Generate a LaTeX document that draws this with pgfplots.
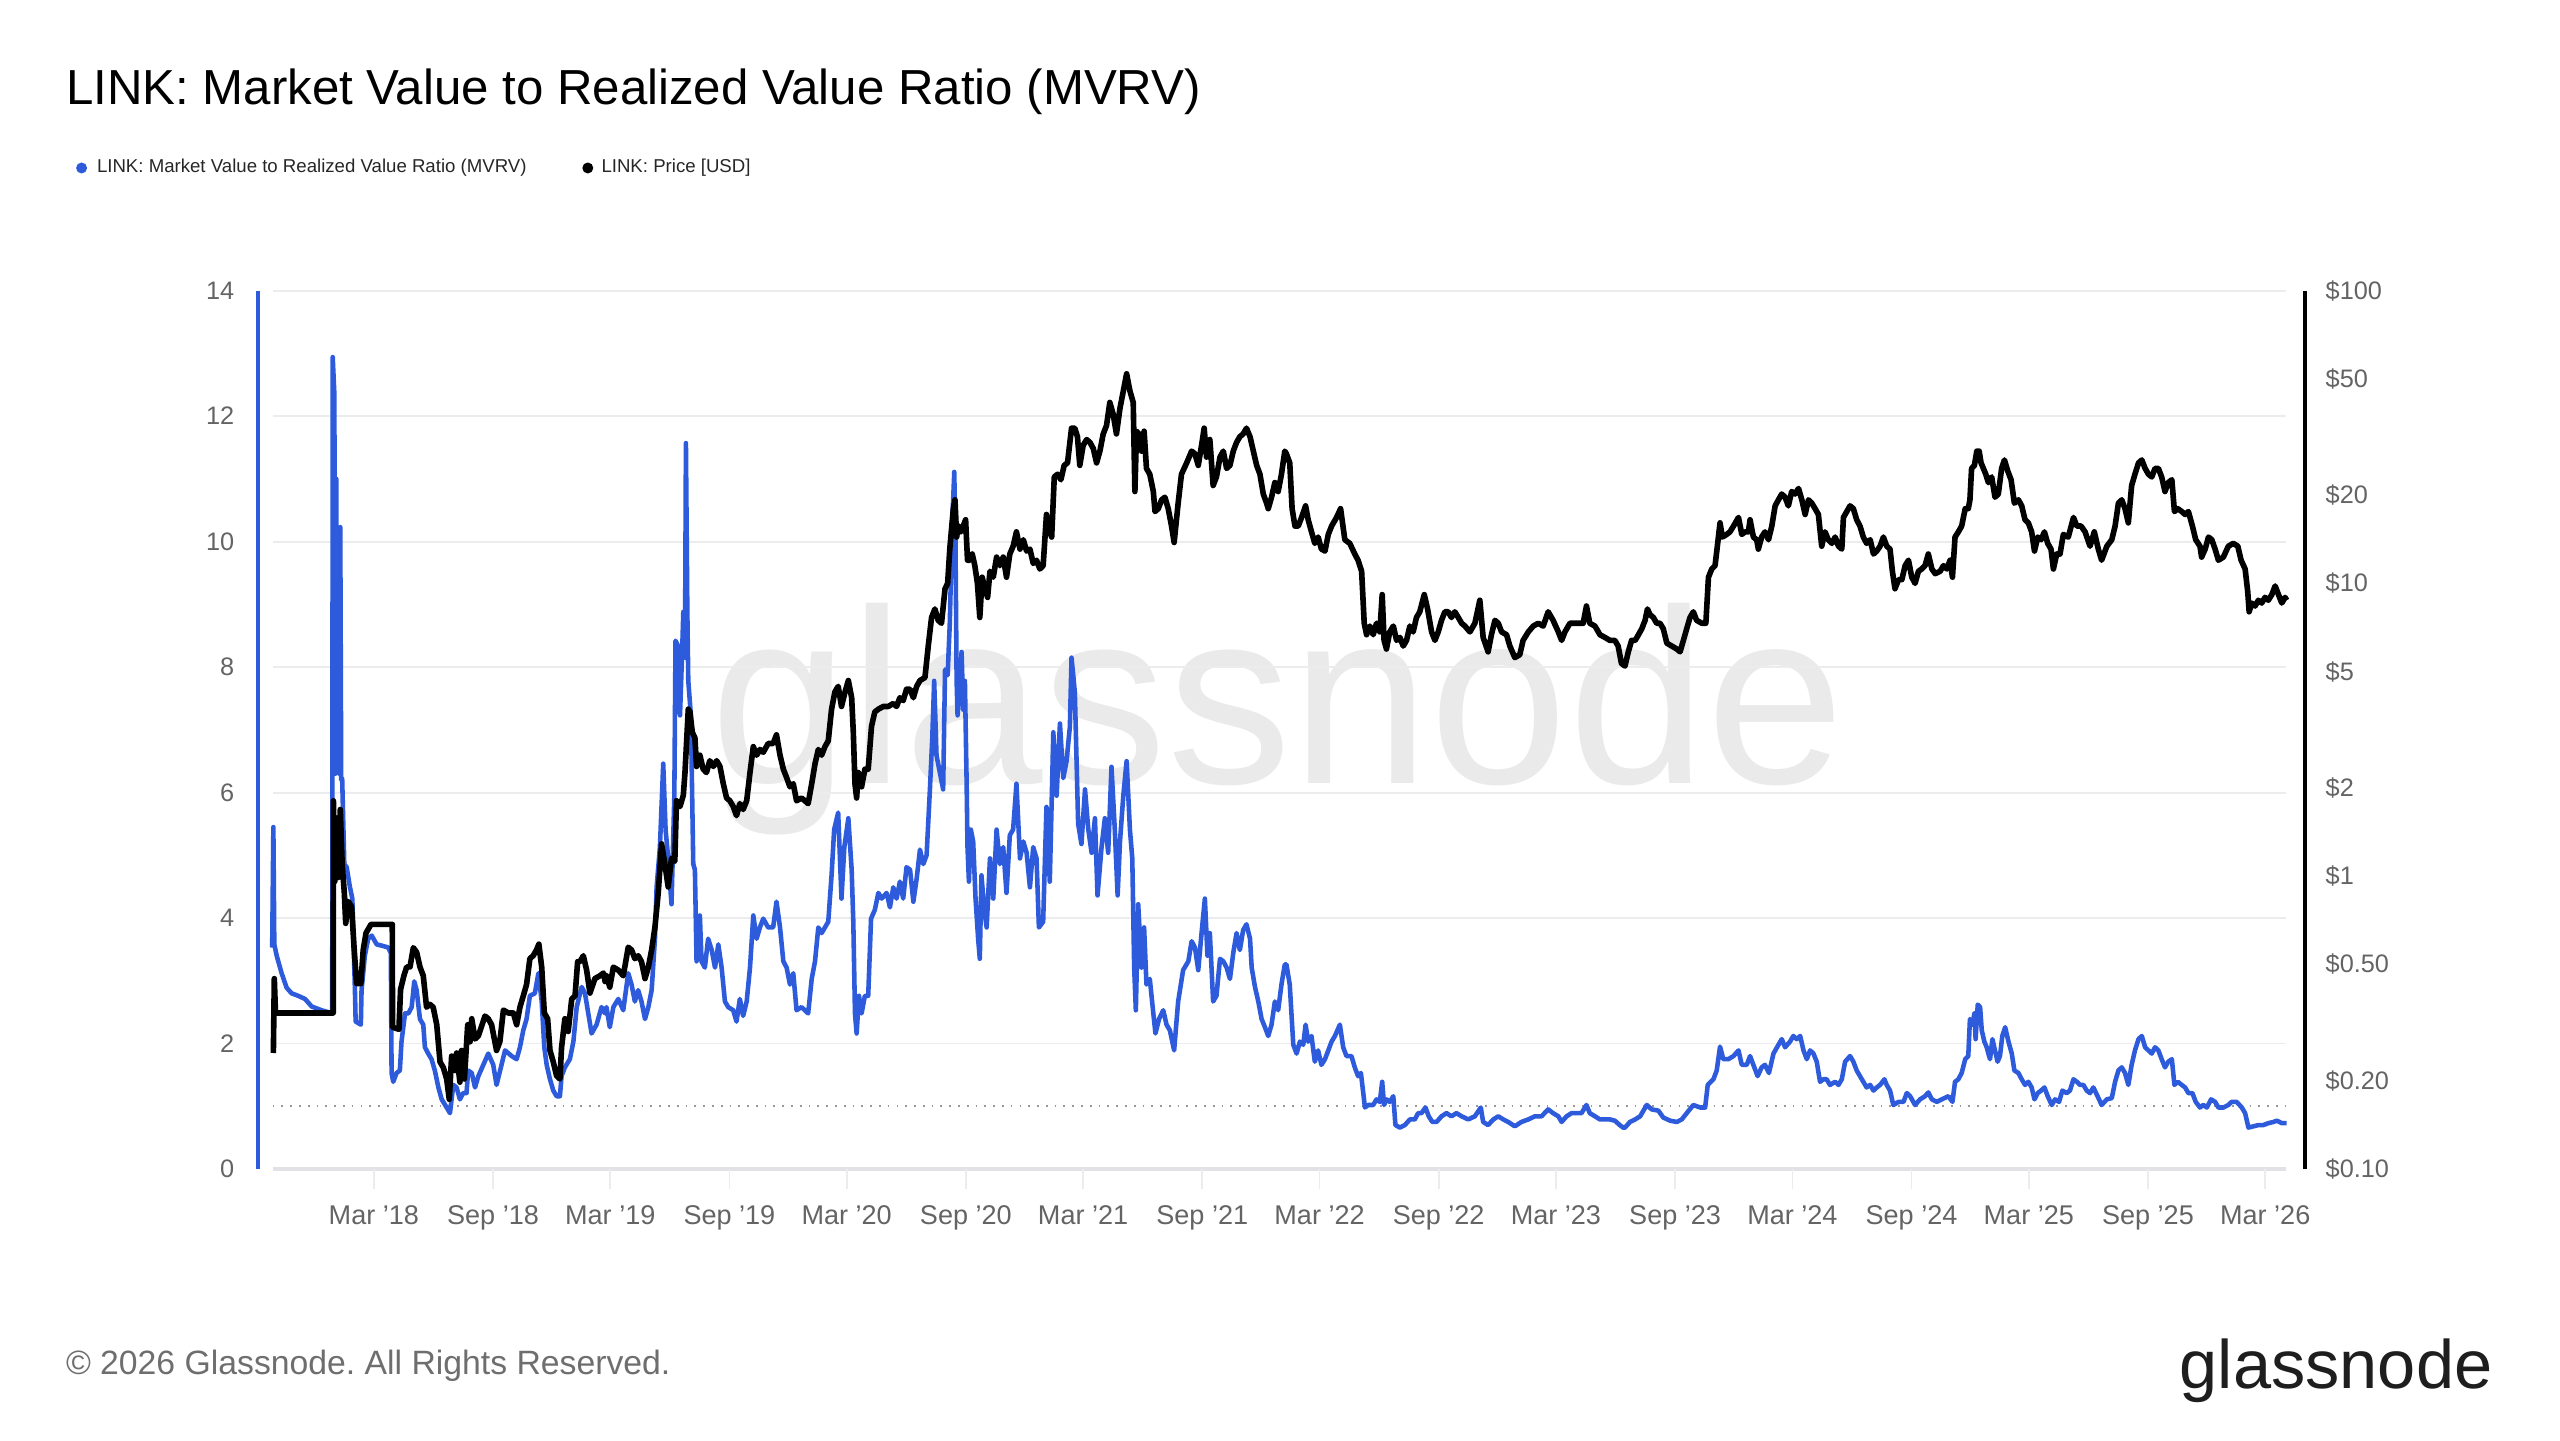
\documentclass[border=0pt]{standalone}
\usepackage{fontspec}
\setmainfont{Liberation Sans}
\usepackage{pgfplots}
\pgfplotsset{compat=1.18}
\frenchspacing
\definecolor{gnblue}{RGB}{45,91,219}
\definecolor{tickgray}{RGB}{100,100,100}
\definecolor{gridgray}{RGB}{236,236,238}
\definecolor{basegray}{RGB}{226,226,230}
\definecolor{wmgray}{RGB}{234,234,234}
\definecolor{footgray}{RGB}{110,110,110}
\definecolor{logogray}{RGB}{30,30,30}
\begin{document}
\begin{tikzpicture}[x=1cm,y=1cm]
\path[use as bounding box] (0,0) rectangle (25.6,14.4);
% title, legend, footer
\node[anchor=base west, inner sep=0, font=\fontsize{14}{16}\selectfont, text=black] at (0.653,13.355) {LINK: Market Value to Realized Value Ratio (MVRV)};
\fill[gnblue] (0.816,12.72) circle (0.055);
\node[anchor=west, inner sep=0, font=\fontsize{5.3}{6}\selectfont, text=black!85] at (0.963,12.72) {LINK: Market Value to Realized Value Ratio (MVRV)};
\fill[black] (5.878,12.72) circle (0.055);
\node[anchor=west, inner sep=0, font=\fontsize{5.3}{6}\selectfont, text=black!85] at (6.008,12.72) {LINK: Price [USD]};
\node[anchor=base west, inner sep=0, font=\fontsize{9.6}{11}\selectfont, text=footgray] at (0.653,0.653) {\textcopyright{} 2026 Glassnode. All Rights Reserved.};
\node[anchor=base east, inner sep=0, font=\fontsize{19.5}{22}\selectfont, text=logogray] at (24.93,0.52) {glassnode};
% watermark
\node[anchor=base, inner sep=0, font=\fontsize{70.8}{72}\selectfont, text=wmgray] at (12.78,6.563) {glassnode};
% ---------- MVRV axis ----------
\begin{axis}[
  at={(2.58cm,2.71cm)}, anchor=south west,
  width=20.474cm, height=8.784cm, scale only axis,
  xmin=2017.672, xmax=2026.332, ymin=0, ymax=14,
  clip=false,
  axis line style={draw=none},
  tick style={draw=none}, major tick length=0pt,
  ytick={0,2,4,6,8,10,12,14},
  yticklabel style={anchor=east, inner sep=0pt, xshift=-0.23cm, font=\fontsize{7.2}{8}\selectfont, text=tickgray},
  /pgf/number format/assume math mode=true,
  xtick={2018.162,2018.666,2019.162,2019.666,2020.162,2020.666,2021.162,2021.666,2022.162,2022.666,2023.162,2023.666,2024.162,2024.666,2025.162,2025.666,2026.162},
  xticklabels={Mar '18,Sep '18,Mar '19,Sep '19,Mar '20,Sep '20,Mar '21,Sep '21,Mar '22,Sep '22,Mar '23,Sep '23,Mar '24,Sep '24,Mar '25,Sep '25,Mar '26},
  xticklabel style={anchor=base, inner sep=0pt, yshift=-0.555cm, font=\fontsize{7.7}{9}\selectfont, text=tickgray},
]
\pgfplotsinvokeforeach{2,4,6,8,10,12,14}{
  \draw[gridgray, line width=0.55pt] (axis cs:2017.734,#1) -- (axis cs:2026.249,#1);
}
\draw[basegray, line width=1.4pt] (axis cs:2017.734,0) -- (axis cs:2026.249,0);
\pgfplotsinvokeforeach{2018.162,2018.666,2019.162,2019.666,2020.162,2020.666,2021.162,2021.666,2022.162,2022.666,2023.162,2023.666,2024.162,2024.666,2025.162,2025.666,2026.162}{
  \draw[gridgray, line width=0.5pt] (axis cs:#1,0) -- ++(0pt,-0.2cm);
}
\draw[gray!80, dotted, line width=0.5pt] (axis cs:2017.734,1) -- (axis cs:2026.249,1);
\draw[gnblue, line width=1.1pt] (rel axis cs:0,0) -- (rel axis cs:0,1);
\addplot[gnblue, line width=1.3pt, line join=round, mark=none] coordinates {
(2017.732,3.53)(2017.737,5.45)(2017.741,3.58)(2017.751,3.40)(2017.772,3.12)(2017.793,2.89)(2017.814,2.80)(2017.842,2.76)(2017.871,2.71)(2017.899,2.59)(2017.941,2.53)(2017.986,2.48)
(2017.988,12.94)(2017.995,12.35)(2017.999,6.3)(2018.003,11.0)(2018.008,6.5)(2018.012,9.0)(2018.016,6.3)(2018.020,10.23)(2018.024,6.2)(2018.028,6.23)(2018.037,4.86)(2018.047,4.81)(2018.061,4.49)(2018.071,4.31)(2018.082,2.85)(2018.085,2.35)(2018.107,2.30)(2018.110,2.85)(2018.124,3.40)(2018.138,3.67)(2018.153,3.72)(2018.174,3.58)(2018.195,3.56)(2018.223,3.53)(2018.234,3.44)
(2018.237,1.53)(2018.244,1.39)(2018.258,1.53)(2018.272,1.57)(2018.279,2.03)(2018.294,2.48)(2018.308,2.48)(2018.322,2.58)(2018.333,2.99)(2018.343,2.85)(2018.357,2.39)(2018.371,2.30)(2018.378,1.94)(2018.392,1.84)(2018.406,1.75)(2018.420,1.57)(2018.435,1.30)(2018.449,1.11)(2018.470,0.98)(2018.484,0.89)(2018.498,1.34)(2018.512,1.30)(2018.526,1.11)(2018.540,1.21)(2018.554,1.21)(2018.561,1.57)(2018.576,1.53)(2018.590,1.30)(2018.604,1.48)(2018.625,1.66)(2018.646,1.84)(2018.667,1.66)(2018.681,1.34)(2018.702,1.66)(2018.717,1.89)(2018.745,1.80)(2018.766,1.75)(2018.780,1.94)(2018.794,2.21)(2018.808,2.39)(2018.822,2.76)(2018.843,2.80)(2018.858,3.12)(2018.872,2.67)(2018.883,1.94)(2018.893,1.66)(2018.907,1.43)(2018.921,1.25)(2018.935,1.16)(2018.949,1.16)(2018.956,1.48)(2018.970,1.62)(2018.991,1.75)(2019.006,2.03)(2019.020,2.58)(2019.041,2.90)(2019.055,2.80)(2019.069,2.48)(2019.083,2.16)(2019.104,2.30)(2019.125,2.58)(2019.140,2.48)
(2019.146,2.58)(2019.160,2.26)(2019.175,2.58)(2019.196,2.71)(2019.217,2.53)(2019.238,3.12)(2019.252,2.94)(2019.266,2.67)(2019.280,2.85)(2019.294,2.67)(2019.309,2.39)(2019.323,2.58)(2019.337,2.85)(2019.351,3.67)(2019.358,4.49)(2019.372,5.13)(2019.386,6.46)(2019.396,5.41)(2019.407,4.95)(2019.421,4.22)(2019.433,5.95)(2019.438,8.42)(2019.450,8.33)(2019.457,7.23)(2019.466,8.24)(2019.471,8.88)(2019.478,8.15)(2019.482,11.57)(2019.488,8.88)(2019.492,7.78)(2019.503,7.23)(2019.513,4.86)(2019.520,4.77)(2019.527,3.31)(2019.541,4.04)(2019.548,3.31)(2019.562,3.21)(2019.576,3.67)(2019.591,3.49)(2019.605,3.21)(2019.619,3.58)(2019.633,3.21)(2019.647,2.67)(2019.661,2.58)(2019.682,2.53)(2019.696,2.35)(2019.710,2.71)(2019.724,2.44)(2019.739,2.67)(2019.753,3.21)(2019.767,4.04)(2019.781,3.67)(2019.795,3.85)(2019.809,3.99)(2019.830,3.85)(2019.851,3.85)(2019.865,4.26)(2019.880,3.85)(2019.894,3.31)(2019.908,3.21)(2019.922,2.94)(2019.936,3.12)(2019.950,2.53)(2019.971,2.58)(2019.999,2.48)
(2020.014,3.03)(2020.028,3.31)(2020.042,3.85)(2020.056,3.76)(2020.070,3.85)(2020.084,3.94)(2020.098,4.68)(2020.109,5.41)(2020.126,5.68)(2020.140,4.31)(2020.152,5.13)(2020.169,5.59)(2020.183,4.77)(2020.190,3.94)(2020.197,2.48)(2020.204,2.16)(2020.214,2.76)(2020.225,2.48)(2020.239,2.76)(2020.253,2.76)(2020.265,3.99)(2020.281,4.13)(2020.296,4.40)(2020.310,4.31)(2020.331,4.40)(2020.345,4.17)(2020.359,4.49)(2020.373,4.31)(2020.387,4.58)(2020.401,4.31)(2020.415,4.81)(2020.430,4.77)(2020.444,4.26)(2020.458,4.63)(2020.472,5.09)(2020.486,4.86)(2020.500,5.00)(2020.514,6.05)(2020.524,6.87)(2020.532,7.78)(2020.542,6.59)(2020.556,6.32)(2020.570,6.05)(2020.578,7.96)
(2020.589,7.87)(2020.598,8.69)(2020.608,10.25)(2020.617,11.11)(2020.622,10.06)(2020.627,7.78)(2020.631,7.23)(2020.641,7.78)(2020.648,8.24)(2020.655,7.32)(2020.662,7.78)(2020.669,6.23)(2020.673,5.13)(2020.679,4.58)(2020.687,5.41)(2020.697,5.22)(2020.707,4.31)(2020.718,3.67)(2020.725,3.35)(2020.732,4.68)(2020.744,4.13)(2020.754,3.85)(2020.768,4.95)(2020.782,4.31)(2020.796,5.41)(2020.810,4.86)(2020.824,5.13)(2020.838,4.40)(2020.852,5.32)(2020.866,5.41)(2020.880,6.14)(2020.895,4.95)(2020.909,5.22)(2020.923,5.04)(2020.937,4.49)(2020.951,5.13)(2020.965,4.95)(2020.975,3.85)(2020.993,3.94)
(2021.007,5.77)(2021.021,4.58)(2021.036,6.96)(2021.050,5.95)(2021.064,7.10)(2021.078,6.23)(2021.092,6.50)(2021.106,7.05)(2021.113,8.15)(2021.127,7.60)(2021.141,5.50)(2021.155,5.18)(2021.170,6.05)(2021.184,5.41)(2021.198,5.04)(2021.212,5.59)(2021.223,4.36)(2021.240,5.13)(2021.254,5.59)(2021.268,5.04)(2021.282,6.41)(2021.296,5.41)(2021.308,4.36)(2021.318,5.22)(2021.332,5.95)(2021.346,6.50)(2021.360,5.41)(2021.370,4.95)(2021.378,3.21)(2021.385,2.53)(2021.395,4.22)(2021.409,3.21)(2021.420,3.85)(2021.430,2.94)(2021.444,3.03)(2021.459,2.48)(2021.468,2.16)(2021.483,2.39)(2021.501,2.53)(2021.515,2.30)(2021.529,2.21)(2021.547,1.89)(2021.564,2.67)(2021.585,3.17)(2021.607,3.31)(2021.621,3.63)(2021.635,3.53)(2021.649,3.17)(2021.663,3.76)(2021.677,4.31)(2021.688,3.40)(2021.698,3.76)(2021.712,2.67)(2021.726,2.76)(2021.741,3.35)(2021.755,3.31)(2021.769,3.21)(2021.783,3.03)(2021.797,3.44)(2021.811,3.76)(2021.825,3.49)(2021.839,3.81)(2021.853,3.90)(2021.868,3.67)(2021.875,3.21)(2021.889,2.90)(2021.903,2.67)(2021.917,2.39)(2021.931,2.26)(2021.945,2.12)(2021.959,2.30)(2021.973,2.67)(2021.987,2.53)(2022.001,2.94)(2022.015,3.26)
(2022.022,3.26)(2022.036,2.94)(2022.051,1.98)(2022.065,1.84)(2022.079,2.03)(2022.093,1.98)(2022.103,2.30)(2022.114,2.03)(2022.128,2.12)(2022.142,1.71)(2022.156,1.89)(2022.170,1.66)(2022.185,1.75)(2022.199,1.89)(2022.213,2.03)(2022.227,2.12)(2022.248,2.30)(2022.262,1.94)(2022.276,1.80)(2022.297,1.80)(2022.311,1.62)(2022.325,1.48)(2022.337,1.53)(2022.347,1.21)(2022.354,0.98)(2022.368,1.02)(2022.389,1.02)(2022.403,1.11)(2022.417,1.07)(2022.427,1.39)(2022.435,1.02)(2022.445,1.11)(2022.459,1.07)(2022.474,1.16)(2022.483,0.70)(2022.502,0.66)(2022.523,0.70)(2022.544,0.79)(2022.565,0.79)(2022.579,0.89)(2022.593,0.89)(2022.610,0.98)(2022.624,0.84)(2022.639,0.75)(2022.657,0.75)(2022.678,0.84)(2022.699,0.89)(2022.720,0.84)(2022.741,0.89)(2022.763,0.84)(2022.791,0.79)(2022.819,0.84)(2022.844,0.98)(2022.854,0.75)(2022.875,0.70)(2022.897,0.79)(2022.918,0.84)(2022.939,0.79)(2022.960,0.75)(2022.988,0.68)
(2023.016,0.75)(2023.045,0.79)(2023.073,0.84)(2023.101,0.84)(2023.129,0.95)(2023.150,0.89)(2023.172,0.84)(2023.186,0.75)(2023.207,0.84)(2023.228,0.89)(2023.249,0.89)(2023.270,0.89)(2023.291,1.02)(2023.305,0.89)(2023.327,0.84)(2023.348,0.79)(2023.369,0.79)(2023.390,0.79)(2023.411,0.77)(2023.432,0.70)(2023.446,0.66)(2023.454,0.66)
(2023.475,0.75)(2023.497,0.79)(2023.518,0.84)(2023.546,1.02)(2023.567,0.95)(2023.595,0.93)(2023.616,0.82)(2023.645,0.77)(2023.673,0.75)(2023.694,0.79)(2023.715,0.89)(2023.743,1.02)(2023.772,0.98)(2023.793,0.98)(2023.804,1.34)(2023.828,1.43)(2023.842,1.57)(2023.856,1.95)(2023.870,1.75)(2023.891,1.75)(2023.913,1.80)(2023.934,1.89)(2023.948,1.66)(2023.969,1.66)(2023.983,1.80)(2023.997,1.66)
(2024.015,1.48)(2024.032,1.62)(2024.046,1.66)(2024.063,1.53)(2024.082,1.84)(2024.103,1.98)(2024.117,2.07)(2024.131,1.94)(2024.152,2.03)(2024.166,2.12)(2024.180,2.07)(2024.195,2.12)(2024.209,1.89)(2024.223,1.75)(2024.237,1.89)(2024.251,1.84)(2024.265,1.71)(2024.279,1.39)(2024.293,1.43)(2024.307,1.43)(2024.321,1.34)(2024.343,1.39)(2024.357,1.34)(2024.371,1.43)(2024.385,1.71)(2024.406,1.80)(2024.420,1.71)(2024.434,1.57)(2024.448,1.48)(2024.462,1.39)(2024.476,1.30)(2024.491,1.34)(2024.505,1.25)(2024.519,1.30)(2024.533,1.34)(2024.551,1.43)(2024.561,1.34)(2024.575,1.25)(2024.589,1.02)(2024.611,1.07)(2024.632,1.07)(2024.646,1.21)(2024.660,1.16)(2024.681,1.02)(2024.702,1.11)(2024.723,1.16)(2024.737,1.22)(2024.752,1.11)(2024.773,1.07)(2024.794,1.11)(2024.822,1.16)(2024.839,1.07)(2024.850,1.39)(2024.864,1.43)(2024.878,1.53)(2024.893,1.75)
(2024.906,1.80)(2024.913,2.39)(2024.923,2.30)(2024.932,2.48)(2024.937,2.07)(2024.946,2.62)(2024.956,2.58)(2024.963,2.21)(2024.974,2.03)(2024.984,1.94)(2024.991,1.84)(2024.998,1.75)(2025.008,2.07)(2025.019,1.89)(2025.030,1.71)(2025.040,1.80)(2025.050,2.12)(2025.062,2.26)(2025.076,2.03)(2025.090,1.84)(2025.101,1.57)(2025.118,1.53)(2025.132,1.43)(2025.146,1.34)(2025.160,1.39)(2025.174,1.30)(2025.186,1.11)(2025.200,1.21)(2025.214,1.25)(2025.228,1.30)(2025.242,1.16)(2025.259,1.02)(2025.273,1.11)(2025.290,1.07)(2025.304,1.25)(2025.322,1.21)(2025.336,1.25)(2025.351,1.43)(2025.365,1.39)(2025.379,1.34)(2025.393,1.34)(2025.407,1.25)(2025.421,1.21)(2025.435,1.30)(2025.453,1.16)(2025.470,1.02)(2025.492,1.11)(2025.513,1.13)(2025.527,1.39)(2025.541,1.57)(2025.555,1.62)(2025.569,1.53)(2025.583,1.34)(2025.597,1.66)(2025.611,1.89)(2025.626,2.07)(2025.640,2.12)(2025.654,1.94)(2025.668,1.89)(2025.682,1.84)(2025.696,1.94)(2025.710,1.89)(2025.724,1.75)(2025.738,1.62)(2025.752,1.71)(2025.767,1.75)(2025.778,1.34)(2025.792,1.39)(2025.809,1.34)(2025.823,1.30)(2025.837,1.21)(2025.854,1.21)(2025.868,1.07)(2025.886,0.98)(2025.900,1.02)(2025.915,0.98)(2025.933,1.11)(2025.950,1.07)(2025.964,0.98)(2025.985,0.98)
(2026.006,1.02)(2026.020,1.07)(2026.041,1.07)(2026.063,0.98)(2026.077,0.89)(2026.091,0.66)(2026.112,0.68)(2026.133,0.70)(2026.154,0.70)(2026.175,0.73)(2026.197,0.75)(2026.211,0.77)(2026.232,0.73)(2026.253,0.73)
};
\end{axis}
% ---------- Price axis ----------
\begin{axis}[
  at={(2.58cm,2.71cm)}, anchor=south west,
  width=20.474cm, height=8.784cm, scale only axis,
  xmin=2017.672, xmax=2026.332, ymin=0.1, ymax=100,
  ymode=log, clip=false,
  hide x axis,
  axis y line*=right,
  y axis line style={draw=none},
  tick style={draw=none}, major tick length=0pt, minor tick num=0,
  ytick={0.1,0.2,0.5,1,2,5,10,20,50,100},
  yticklabels={\$0.10,\$0.20,\$0.50,\$1,\$2,\$5,\$10,\$20,\$50,\$100},
  yticklabel style={anchor=west, inner sep=0pt, xshift=0.196cm, font=\fontsize{7.2}{8}\selectfont, text=tickgray},
  yminorticks=false,
]
\draw[black, line width=1.1pt] (rel axis cs:1,0) -- (rel axis cs:1,1);
\addplot[black, line width=1.6pt, line join=round, mark=none] coordinates {
(2017.737,0.249)(2017.741,0.447)(2017.746,0.341)(2017.990,0.341)(2017.991,1.81)(2017.997,0.96)(2018.004,1.58)(2018.012,0.99)(2018.020,1.69)(2018.028,1.10)(2018.037,0.88)(2018.043,0.69)(2018.054,0.82)(2018.068,0.785)(2018.079,0.56)(2018.089,0.43)(2018.107,0.43)(2018.117,0.56)(2018.129,0.64)(2018.150,0.685)(2018.240,0.685)(2018.241,0.305)(2018.268,0.30)(2018.275,0.41)(2018.289,0.457)(2018.301,0.49)(2018.315,0.49)(2018.329,0.57)(2018.343,0.55)(2018.357,0.49)(2018.371,0.457)(2018.385,0.357)(2018.399,0.365)(2018.413,0.357)(2018.428,0.311)(2018.442,0.232)(2018.456,0.222)(2018.470,0.203)(2018.481,0.173)(2018.491,0.243)(2018.505,0.217)(2018.512,0.249)(2018.526,0.198)(2018.533,0.254)(2018.545,0.203)(2018.559,0.311)(2018.569,0.272)(2018.576,0.326)(2018.590,0.278)(2018.604,0.285)(2018.632,0.333)(2018.646,0.326)(2018.660,0.311)(2018.681,0.254)(2018.695,0.272)(2018.710,0.349)(2018.731,0.341)(2018.752,0.341)(2018.766,0.311)(2018.780,0.357)(2018.794,0.390)(2018.808,0.427)(2018.822,0.523)(2018.836,0.535)(2018.850,0.560)(2018.860,0.586)(2018.872,0.489)(2018.883,0.341)(2018.897,0.326)(2018.907,0.254)(2018.921,0.232)(2018.935,0.208)(2018.949,0.203)(2018.956,0.260)(2018.970,0.326)(2018.984,0.295)(2018.999,0.381)(2019.013,0.390)(2019.024,0.511)(2019.034,0.511)(2019.048,0.535)(2019.062,0.478)(2019.076,0.399)(2019.097,0.447)(2019.118,0.457)(2019.133,0.467)(2019.140,0.437)
(2019.146,0.457)(2019.160,0.418)(2019.175,0.489)(2019.196,0.478)(2019.217,0.457)(2019.238,0.572)(2019.252,0.560)(2019.266,0.523)(2019.280,0.535)(2019.294,0.511)(2019.309,0.447)(2019.323,0.489)(2019.337,0.560)(2019.351,0.670)(2019.365,0.879)(2019.379,1.29)(2019.393,1.10)(2019.407,0.919)(2019.421,1.15)(2019.435,1.125)(2019.442,1.81)(2019.457,1.73)(2019.471,1.89)(2019.478,2.26)(2019.492,3.72)(2019.499,3.64)(2019.509,3.10)(2019.520,2.97)(2019.527,2.37)(2019.541,2.59)(2019.555,2.32)(2019.569,2.26)(2019.583,2.48)(2019.598,2.37)(2019.612,2.48)(2019.626,2.37)(2019.640,2.07)(2019.654,1.85)(2019.668,1.81)(2019.682,1.73)(2019.696,1.61)(2019.710,1.77)(2019.724,1.69)(2019.739,1.81)(2019.753,2.26)(2019.767,2.77)(2019.781,2.59)(2019.795,2.71)(2019.809,2.65)(2019.830,2.84)(2019.851,2.84)(2019.865,3.04)(2019.880,2.59)(2019.894,2.32)(2019.908,2.17)(2019.922,2.02)(2019.936,2.07)(2019.950,1.81)(2019.971,1.85)(2019.999,1.77)
(2020.014,2.07)(2020.028,2.42)(2020.042,2.71)(2020.056,2.59)(2020.070,2.77)(2020.084,2.90)(2020.098,3.72)(2020.112,4.26)(2020.126,4.45)(2020.140,3.80)(2020.155,4.26)(2020.169,4.66)(2020.183,4.07)(2020.190,3.10)(2020.197,2.07)(2020.204,1.85)(2020.211,2.26)(2020.225,2.02)(2020.239,2.32)(2020.253,2.32)(2020.267,3.25)(2020.281,3.64)(2020.296,3.72)(2020.317,3.80)(2020.338,3.80)(2020.359,3.89)(2020.373,3.80)(2020.387,4.07)(2020.401,3.98)(2020.415,4.35)(2020.430,4.35)(2020.444,4.07)(2020.458,4.45)(2020.472,4.66)(2020.493,4.77)(2020.507,6.11)(2020.521,7.65)(2020.535,8.18)(2020.549,7.48)(2020.563,7.31)(2020.578,9.59)
(2020.589,10.0)(2020.598,13.1)(2020.613,18.0)(2020.620,19.3)(2020.627,14.4)(2020.634,15.7)(2020.645,15.0)(2020.655,15.7)(2020.665,16.5)(2020.673,12.0)(2020.683,12.0)(2020.693,12.6)(2020.704,11.5)(2020.715,10.0)(2020.725,7.65)(2020.735,10.5)(2020.747,9.59)(2020.758,8.96)(2020.768,11.0)(2020.782,10.5)(2020.796,12.3)(2020.810,11.5)(2020.824,12.3)(2020.838,10.5)(2020.852,12.6)(2020.866,13.4)(2020.880,15.0)(2020.895,13.1)(2020.909,14.1)(2020.923,12.9)(2020.937,13.1)(2020.951,11.7)(2020.965,12.0)(2020.979,11.2)(2020.993,11.5)
(2021.007,17.2)(2021.021,15.0)(2021.029,14.4)(2021.040,23.1)(2021.054,23.6)(2021.068,22.6)(2021.082,25.3)(2021.096,25.8)(2021.113,33.9)(2021.127,33.9)(2021.138,31.7)(2021.148,25.3)(2021.162,29.6)(2021.177,31.0)(2021.191,30.3)(2021.205,28.9)(2021.219,25.8)(2021.233,28.3)(2021.247,32.4)(2021.261,34.6)(2021.275,41.5)(2021.289,37.9)(2021.303,32.4)(2021.318,39.7)(2021.332,45.4)(2021.346,52.0)(2021.360,45.4)(2021.374,41.5)(2021.381,20.6)(2021.388,33.1)(2021.398,32.4)(2021.409,28.3)(2021.420,33.1)(2021.430,24.7)(2021.444,23.6)(2021.459,20.6)(2021.466,17.6)(2021.480,18.0)(2021.494,19.3)(2021.508,19.7)(2021.522,18.0)(2021.536,15.7)(2021.547,13.8)(2021.564,18.8)(2021.578,23.6)(2021.600,25.8)(2021.621,28.3)(2021.635,27.7)(2021.649,25.3)(2021.663,29.6)(2021.674,33.9)(2021.684,27.0)(2021.698,31.0)(2021.712,21.6)(2021.726,23.1)(2021.741,27.0)(2021.755,28.3)(2021.769,24.7)(2021.783,25.3)(2021.797,28.3)(2021.811,30.3)(2021.825,31.7)(2021.839,32.4)(2021.853,33.9)(2021.868,31.7)(2021.882,28.3)(2021.896,25.3)(2021.910,23.6)(2021.924,20.2)(2021.938,18.8)(2021.945,18.0)(2021.959,19.7)(2021.973,22.1)(2021.987,20.6)(2022.001,23.6)(2022.015,28.3)
(2022.022,27.7)(2022.036,25.8)(2022.046,18.0)(2022.058,15.7)(2022.072,15.7)(2022.086,16.8)(2022.103,18.4)(2022.114,16.5)(2022.128,15.0)(2022.142,13.7)(2022.156,14.4)(2022.170,13.1)(2022.185,12.9)(2022.199,14.7)(2022.213,15.7)(2022.234,16.8)(2022.251,18.0)(2022.269,14.1)(2022.290,13.7)(2022.311,12.6)(2022.325,12.0)(2022.340,11.0)(2022.351,7.31)(2022.361,6.68)(2022.375,7.15)(2022.389,6.68)(2022.403,7.31)(2022.417,6.83)(2022.427,9.16)(2022.435,6.39)(2022.445,5.97)(2022.459,6.83)(2022.474,7.15)(2022.488,6.39)(2022.502,6.54)(2022.516,6.11)(2022.530,6.39)(2022.544,7.15)(2022.558,6.83)(2022.572,7.65)(2022.586,8.00)(2022.605,9.16)(2022.619,8.18)(2022.636,6.83)(2022.650,6.39)(2022.664,6.83)(2022.678,7.48)(2022.692,8.00)(2022.706,8.00)(2022.720,7.65)(2022.734,8.00)(2022.749,7.65)(2022.763,7.31)(2022.777,7.15)(2022.798,6.83)(2022.819,7.31)(2022.840,8.76)(2022.854,6.54)(2022.875,5.84)(2022.889,6.68)(2022.904,7.48)(2022.918,7.31)(2022.932,6.83)(2022.953,6.68)(2022.967,6.11)(2022.988,5.58)
(2023.009,5.71)(2023.023,6.39)(2023.045,6.83)(2023.066,7.15)(2023.087,7.31)(2023.108,7.15)(2023.129,8.00)(2023.150,7.48)(2023.172,6.83)(2023.186,6.39)(2023.200,6.83)(2023.221,7.31)(2023.242,7.31)(2023.263,7.31)(2023.277,7.31)(2023.291,8.37)(2023.305,7.31)(2023.327,7.15)(2023.348,6.68)(2023.369,6.54)(2023.390,6.39)(2023.411,6.39)(2023.425,6.11)(2023.439,5.33)(2023.454,5.22)
(2023.468,5.84)(2023.482,6.39)(2023.497,6.39)(2023.511,6.68)(2023.525,7.0)(2023.539,7.48)(2023.549,8.18)(2023.560,7.82)(2023.574,7.65)(2023.588,7.31)(2023.602,7.31)(2023.616,7.0)(2023.631,6.25)(2023.652,6.11)(2023.673,5.97)(2023.687,5.84)(2023.701,6.39)(2023.715,7.0)(2023.729,7.65)(2023.743,8.0)(2023.757,7.48)(2023.779,7.31)(2023.796,7.31)(2023.807,10.5)(2023.821,11.2)(2023.835,11.5)(2023.846,13.7)(2023.856,16.1)(2023.866,14.4)(2023.884,14.7)(2023.898,15.0)(2023.913,15.7)(2023.934,16.8)(2023.948,14.7)(2023.962,15.0)(2023.976,15.0)(2023.983,16.5)(2023.997,14.4)
(2024.011,14.1)(2024.018,13.1)(2024.032,14.4)(2024.046,15.0)(2024.061,14.1)(2024.075,15.7)(2024.089,18.4)(2024.103,19.3)(2024.117,20.2)(2024.131,19.7)(2024.145,18.4)(2024.159,20.6)(2024.173,20.2)(2024.188,21.1)(2024.202,19.3)(2024.216,17.2)(2024.230,19.3)(2024.244,18.8)(2024.258,18.0)(2024.272,17.2)(2024.286,13.4)(2024.300,15.0)(2024.314,14.1)(2024.329,13.7)(2024.343,14.4)(2024.357,13.4)(2024.371,13.1)(2024.378,16.8)(2024.392,17.6)(2024.406,18.4)(2024.420,18.0)(2024.434,16.5)(2024.448,15.7)(2024.462,14.4)(2024.476,13.7)(2024.491,14.1)(2024.505,12.6)(2024.519,12.9)(2024.533,13.4)(2024.547,14.4)(2024.561,13.4)(2024.575,13.1)(2024.585,11.0)(2024.596,9.59)(2024.611,10.3)(2024.625,10.3)(2024.639,11.5)(2024.653,12.0)(2024.667,10.5)(2024.681,10.0)(2024.695,11.0)(2024.709,11.2)(2024.723,11.5)(2024.737,12.6)(2024.752,11.2)(2024.766,10.8)(2024.787,11.0)(2024.801,11.5)(2024.815,11.2)(2024.829,12.0)(2024.839,10.5)(2024.850,14.4)(2024.864,15.0)(2024.878,15.7)(2024.893,18.0)
(2024.906,18.0)(2024.913,19.3)(2024.920,24.7)(2024.932,25.3)(2024.942,28.3)(2024.952,28.3)(2024.960,25.8)(2024.970,24.7)(2024.980,23.6)(2024.991,22.1)(2025.005,23.1)(2025.019,19.7)(2025.033,20.2)(2025.047,24.7)(2025.059,26.4)(2025.073,24.2)(2025.087,22.6)(2025.101,18.8)(2025.118,19.3)(2025.132,18.4)(2025.146,16.5)(2025.160,16.1)(2025.174,15.0)(2025.186,12.9)(2025.200,14.4)(2025.214,14.1)(2025.228,15.0)(2025.242,13.7)(2025.256,13.1)(2025.266,11.2)(2025.280,12.6)(2025.294,12.6)(2025.308,14.7)(2025.329,14.4)(2025.351,16.8)(2025.365,15.7)(2025.383,15.7)(2025.400,15.0)(2025.421,13.4)(2025.439,15.0)(2025.456,13.1)(2025.470,12.0)(2025.492,13.4)(2025.513,14.1)(2025.527,15.7)(2025.541,18.8)(2025.555,19.3)(2025.569,18.0)(2025.583,16.1)(2025.597,21.6)(2025.611,23.6)(2025.626,25.8)(2025.640,26.4)(2025.654,24.7)(2025.668,23.6)(2025.682,23.1)(2025.696,24.7)(2025.710,24.7)(2025.724,23.1)(2025.738,20.6)(2025.752,22.1)(2025.767,22.6)(2025.778,17.6)(2025.792,18.0)(2025.809,17.6)(2025.823,17.2)(2025.837,17.6)(2025.854,15.7)(2025.868,14.1)(2025.886,13.4)(2025.893,12.3)(2025.908,13.1)(2025.922,14.4)(2025.936,14.1)(2025.950,13.1)(2025.964,12.0)(2025.985,12.3)
(2026.006,13.4)(2026.027,13.7)(2026.046,13.4)(2026.060,12.0)(2026.077,11.2)(2026.088,9.37)(2026.094,8.00)(2026.105,8.57)(2026.119,8.37)(2026.133,8.76)(2026.147,8.57)(2026.161,8.96)(2026.175,8.76)(2026.190,9.16)(2026.204,9.8)(2026.218,9.16)(2026.232,8.57)(2026.246,8.96)(2026.253,8.76)
};
\end{axis}
\end{tikzpicture}
\end{document}
